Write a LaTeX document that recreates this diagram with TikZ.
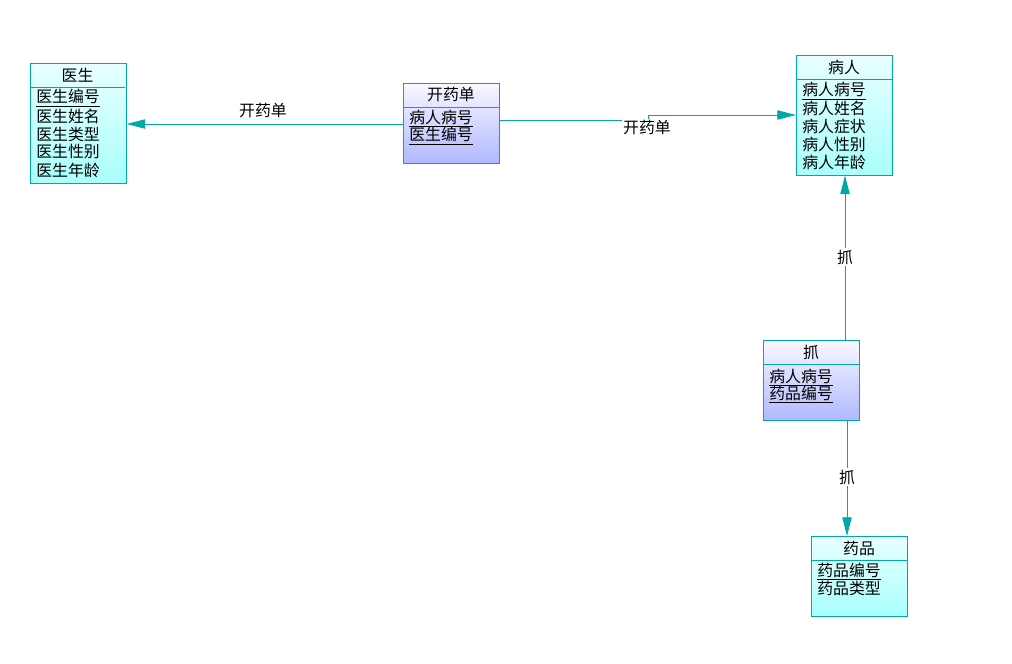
\documentclass[tikz,border=0pt]{standalone}
\usepackage{fontspec}
\usepackage{tikz}
\usetikzlibrary{arrows.meta}
\setmainfont{Noto Sans CJK SC}

\definecolor{linecol}{RGB}{0,168,168}
\definecolor{cyanlt}{RGB}{232,255,255}
\definecolor{cyandk}{RGB}{168,255,252}
\definecolor{lavlt}{RGB}{248,248,255}
\definecolor{lavdk}{RGB}{176,184,255}

% key attribute: underline closer to the glyphs
\newcommand{\keyul}[1]{\underline{#1\vrule width 0pt depth 0.5pt}}

\tikzset{
  entbox/.style={draw=linecol, rectangle, inner sep=0pt, anchor=north west,
    minimum width=72pt, shading=axis, shading angle=45,
    top color=cyanlt, bottom color=cyandk},
  relbox/.style={entbox, top color=lavlt, bottom color=lavdk},
  ttl/.style={inner sep=0pt, font=\fontsize{11.9pt}{13pt}\selectfont},
  attr/.style={ttl, anchor=west},
  keyattr/.style={ttl, anchor=base west},
  conn/.style={draw=linecol, line width=0.6pt, -{Triangle[length=14pt,width=7pt]}},
  lbl/.style={ttl, fill=white, inner sep=1pt}
}

\begin{document}
\begin{tikzpicture}[x=0.75pt,y=0.75pt,yscale=-1,xscale=1]
\useasboundingbox (0,0) rectangle (1012,663);

% Entity: doctor
\node[entbox, minimum height=90pt] (yisheng) at (30,63) {};
\draw[linecol] (30,87) -- (125,87);
\node[ttl] (yishengT) at (77.5,75) {医生};
\node[keyattr] (ys1) at (36,103) {\keyul{医生编号}};
\node[attr] (ys2) at (36,116) {医生姓名};
\node[attr] (ys3) at (36,134) {医生类型};
\node[attr] (ys4) at (36,152) {医生性别};
\node[attr] (ys5) at (36,170) {医生年龄};

% Relation: prescription
\node[relbox, minimum height=60pt] (kaiyao) at (403,83) {};
\draw[linecol] (403,107) -- (499,107);
\node[ttl] (kaiyaoT) at (451,95) {开药单};
\node[keyattr] (ky1) at (409,123) {\keyul{病人病号}};
\node[keyattr] (ky2) at (409,141) {\keyul{医生编号}};

% Entity: patient
\node[entbox, minimum height=90pt] (bingren) at (796,55) {};
\draw[linecol] (796,79) -- (892,79);
\node[ttl] (bingrenT) at (844,67) {病人};
\node[keyattr] (br1) at (802,96) {\keyul{病人病号}};
\node[attr] (br2) at (802,108) {病人姓名};
\node[attr] (br3) at (802,126) {病人症状};
\node[attr] (br4) at (802,144) {病人性别};
\node[attr] (br5) at (802,162) {病人年龄};

% Relation: fetch
\node[relbox, minimum height=60pt] (zhua) at (763,340) {};
\draw[linecol] (763,364) -- (859,364);
\node[ttl] (zhuaT) at (811,352) {抓};
\node[keyattr] (zh1) at (769,382) {\keyul{病人病号}};
\node[keyattr] (zh2) at (769,399) {\keyul{药品编号}};

% Entity: medicine
\node[entbox, minimum height=60pt] (yaopin) at (811,536) {};
\draw[linecol] (811,560) -- (907,560);
\node[ttl] (yaopinT) at (859,548) {药品};
\node[keyattr] (yp1) at (817,576) {\keyul{药品编号}};
\node[attr] (yp2) at (817,588) {药品类型};

% Connectors
\draw[conn] (kaiyao.west |- 0,124) -- (yisheng.east |- 0,124);
\node[ttl] (l1) at (263,111) {开药单};

\draw[conn] (kaiyao.east |- 0,120) -| (648,115) -- (bingren.west |- 0,115);
\node[lbl] (l2) at (647,128) {开药单};

\draw[conn] (zhua.north -| 845,0) -- (bingren.south -| 845,0);
\node[lbl] (l3) at (845,257) {抓};

\draw[conn] (zhua.south -| 847,0) -- (yaopin.north -| 847,0);
\node[lbl] (l4) at (847,477) {抓};
\end{tikzpicture}
\end{document}
